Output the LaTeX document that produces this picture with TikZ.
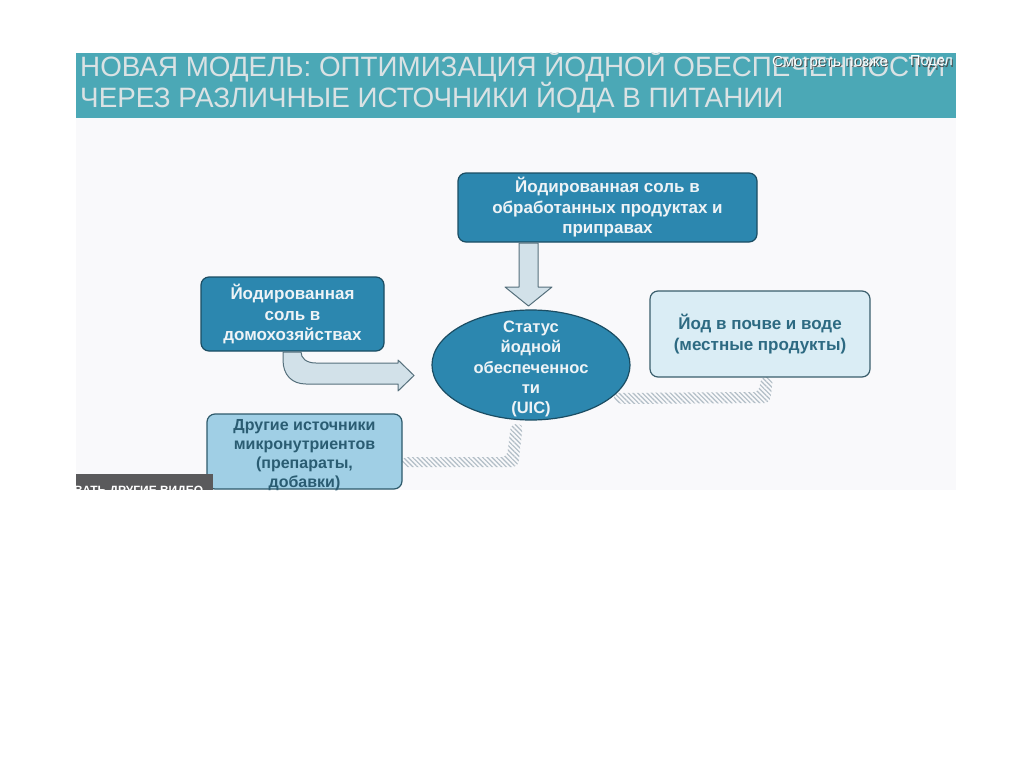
\documentclass[tikz,border=0pt]{standalone}
\usepackage{fontspec}
\setmainfont{Liberation Sans}
\usetikzlibrary{patterns.meta,shapes.geometric}
\definecolor{banner}{HTML}{4BA8B6}
\definecolor{slidebg}{HTML}{F9F9FB}
\definecolor{titlec}{HTML}{DAE2E4}
\definecolor{darkfill}{HTML}{2C87AF}
\definecolor{darkborder}{HTML}{1B4D63}
\definecolor{boxtext}{HTML}{EEF3F6}
\definecolor{arrowfill}{HTML}{D2E1E9}
\definecolor{arrowborder}{HTML}{56707C}
\definecolor{rightfill}{HTML}{DAEDF5}
\definecolor{rightborder}{HTML}{3A5E6C}
\definecolor{righttext}{HTML}{2D6A82}
\definecolor{otherfill}{HTML}{A0CFE5}
\definecolor{otherborder}{HTML}{2E5A6B}
\definecolor{othertext}{HTML}{2A5C72}
\definecolor{hatchc}{HTML}{B1BDC6}
\definecolor{overlaygrey}{HTML}{5A5A5C}
\begin{document}
\begin{tikzpicture}[x=1pt,y=-1pt,
  boxbase/.style={rounded corners=8pt, line width=1.2pt, align=center, inner sep=0pt,
    font=\bfseries\fontsize{17}{20.5}\selectfont},
  darkbox/.style={boxbase, draw=darkborder, fill=darkfill, text=boxtext},
  lightbox/.style={boxbase, draw=rightborder, fill=rightfill, text=righttext},
  otherstyle/.style={boxbase, draw=otherborder, fill=otherfill},
  othertextstyle/.style={align=center, inner sep=0pt, text=othertext,
    font=\bfseries\fontsize{16}{19}\selectfont},
  statusstyle/.style={ellipse, draw=darkborder, fill=darkfill, line width=1.2pt, inner sep=0pt},
  statustextstyle/.style={align=center, inner sep=0pt, text=boxtext,
    font=\bfseries\fontsize{16.5}{20.4}\selectfont},
  blockarrow/.style={fill=arrowfill, draw=arrowborder, line width=1pt, line join=round},
  hatchband/.style={pattern={Lines[angle=-45,distance=3.3pt,line width=1.2pt]}, pattern color=hatchc},
  titlestyle/.style={anchor=base west, inner sep=0pt, text=titlec, font=\fontsize{28}{28}\selectfont},
  overlaytext/.style={anchor=base west, inner sep=0pt, text=white, font=\fontsize{14.5}{14.5}\selectfont}
]
\useasboundingbox (0,0) rectangle (1024,768);
\fill[white] (0,0) rectangle (1024,768);
% slide
\fill[slidebg] (76,118) rectangle (956,490);
\fill[banner] (76,53) rectangle (956,118);
\begin{scope}
\clip (76,53) rectangle (956,118);
\node[titlestyle] (t1) at (80,76) {\resizebox{865pt}{\height}{НОВАЯ МОДЕЛЬ: ОПТИМИЗАЦИЯ ЙОДНОЙ ОБЕСПЕЧЕННОСТИ}};
\node[titlestyle] (t2) at (80,107) {\resizebox{703pt}{\height}{ЧЕРЕЗ РАЗЛИЧНЫЕ ИСТОЧНИКИ ЙОДА В ПИТАНИИ}};
\node[overlaytext, text=black!70] (o1s) at (773,67) {\resizebox{116pt}{\height}{Смотреть позже}};
\node[overlaytext] (o1) at (772,66) {\resizebox{116pt}{\height}{Смотреть позже}};
\node[overlaytext, text=black!70] (o2s) at (911,67) {Подел};
\node[overlaytext] (o2) at (910,66) {Подел};
\end{scope}

% hatched connectors
\fill[hatchband, rounded corners=5pt] (402,457) -- (507,457) -- (511,424) -- (523,424) -- (518,467) -- (402,467) -- cycle;
\fill[hatchband, rounded corners=5pt] (761,377) -- (759,392) -- (612,393) -- (617,404) -- (770,403) -- (773,377) -- cycle;

% nodes
\node[darkbox, minimum width=299pt, minimum height=69pt] (topbox) at (607.5,207.5)
  {Йодированная соль в\\обработанных продуктах и\\приправах};
\node[darkbox, minimum width=183pt, minimum height=74pt] (leftbox) at (292.5,314)
  {Йодированная\\соль в\\домохозяйствах};
\node[statusstyle, minimum width=198pt, minimum height=110pt] (status) at (531,365) {};
\node[statustextstyle] (statustext) at (531,369)
  {Статус\\йодной\\обеспеченнос\\ти\\(UIC)};
\node[lightbox, minimum width=220pt, minimum height=86pt] (rightbox) at (760,334)
  {Йод в почве и воде\\(местные продукты)};
\node[otherstyle, minimum width=195pt, minimum height=75pt] (otherbox) at (304.5,451.5) {};
\node[othertextstyle] (othertext) at (304.5,455.5)
  {Другие источники\\микронутриентов\\(препараты,\\добавки)};

% block arrows
\draw[blockarrow] (519,243) -- (538,243) -- (538,287) -- (552,287) -- (528.5,306) -- (505,287) -- (519,287) -- cycle;
\draw[blockarrow] (283,352) -- (283,360) .. controls (283,375) and (292,384) .. (306,384)
  -- (398,384) -- (398,391) -- (414,375.5) -- (398,360) -- (398,363) -- (316,363)
  .. controls (306,363) and (301,358) .. (301,352) -- cycle;

% bottom overlay
\begin{scope}
\clip (76,474) rectangle (213,490);
\fill[overlaygrey] (76,474) rectangle (213,490);
\node[anchor=base west, inner sep=0pt, text=white, font=\bfseries\fontsize{12}{12}\selectfont] (o3) at (74,494.5) {\resizebox{129pt}{\height}{ВАТЬ ДРУГИЕ ВИДЕО}};
\end{scope}
\end{tikzpicture}
\end{document}
